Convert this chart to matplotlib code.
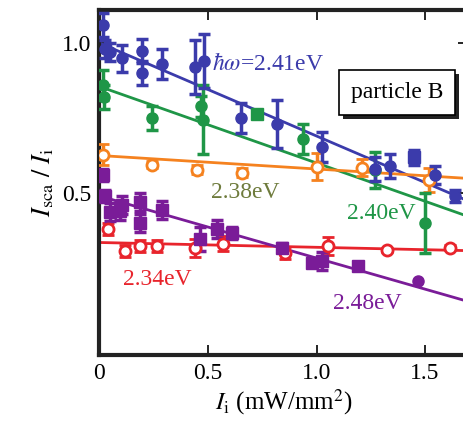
# -*- coding: utf-8 -*-

import numpy as np
from matplotlib import pyplot as plt
from matplotlib import patheffects

plt.rcParams['font.family'] = ['Liberation Serif', 'DejaVu Serif']
plt.rcParams['mathtext.fontset'] = 'stix'

# 2.41 eV (blue, filled circles)
x_241 = [0.016, 0.025, 0.05, 0.104, 0.196, 0.196, 0.288, 0.44, 0.48, 0.65, 0.82, 1.025, 1.27, 1.34, 1.545, 1.64]
y_241 = [1.06, 0.98, 0.97, 0.95, 0.975, 0.90, 0.93, 0.92, 0.94, 0.75, 0.73, 0.655, 0.58, 0.59, 0.56, 0.49]
e_241 = [0.04, 0.03, 0.03, 0.045, 0.04, 0.04, 0.05, 0.09, 0.09, 0.05, 0.08, 0.05, 0.04, 0.04, 0.03, 0.02]
xs_241, ys_241, es_241 = [1.45], [0.62], [0.025]

# 2.40 eV (green, filled circles)
x_240 = [0.015, 0.02, 0.24, 0.47, 0.475, 0.94, 1.27, 1.50]
y_240 = [0.86, 0.82, 0.75, 0.79, 0.745, 0.68, 0.578, 0.40]
e_240 = [0.05, 0.04, 0.04, 0.035, 0.115, 0.05, 0.06, 0.10]
xs_240, ys_240, es_240 = [0.725], [0.764], [0.01]

# 2.38 eV (orange, open circles)
x_238 = [0.016, 0.24, 0.45, 0.657, 1.0, 1.21, 1.52]
y_238 = [0.628, 0.595, 0.578, 0.567, 0.588, 0.585, 0.544]
e_238 = [0.035, 0.012, 0.015, 0.015, 0.045, 0.03, 0.04]

# 2.34 eV (red, open circles)
x_234 = [0.04, 0.118, 0.187, 0.265, 0.44, 0.57, 0.855, 1.053, 1.325, 1.615]
y_234 = [0.38, 0.307, 0.324, 0.324, 0.318, 0.33, 0.30, 0.324, 0.31, 0.318]
e_234 = [0.02, 0.02, 0.02, 0.02, 0.03, 0.025, 0.02, 0.03, 0.008, 0.008]

# 2.48 eV (purple, filled squares)
x_248 = [0.016, 0.025, 0.05, 0.104, 0.095, 0.187, 0.187, 0.288, 0.463, 0.54, 0.61, 0.84, 0.98, 1.025, 1.19]
y_248 = [0.56, 0.49, 0.435, 0.46, 0.44, 0.47, 0.40, 0.443, 0.348, 0.38, 0.365, 0.318, 0.267, 0.274, 0.257]
e_248 = [0.02, 0.02, 0.03, 0.03, 0.03, 0.03, 0.03, 0.03, 0.04, 0.03, 0.02, 0.015, 0.015, 0.03, 0.01]
xc_248, yc_248 = [1.468], [0.206]

# linear fits: (intercept, slope)
fits = {'2.41': (1.0, -0.31), '2.40': (0.855, -0.255), '2.38': (0.625, -0.045),
        '2.34': (0.335, -0.016), '2.48': (0.49, -0.207)}

blue = '#3b3bab'
green = '#1f9647'
orange = '#f5821f'
red = '#e8242c'
purple = '#7a1c98'
olive = '#6e7b3c'

fig = plt.figure(figsize=(4.63, 4.28), dpi=100)
ax = fig.add_axes([0.2149, 0.1706, 0.7968, 0.806])
ax.set_xlim(0, 1.7)
ax.set_ylim(-0.04, 1.11)

xx = np.array([0, 1.7])
for key, col in [('2.41', blue), ('2.40', green), ('2.38', orange), ('2.34', red), ('2.48', purple)]:
    b, m = fits[key]
    ax.plot(xx, b + m * xx, color=col, lw=2, zorder=2)

eb = dict(ls='none', elinewidth=2.5, capsize=4.5, capthick=2.5, ms=8, zorder=3)
ax.errorbar(x_234, y_234, yerr=e_234, fmt='o', color=red, mfc='white', mew=2, **eb)
ax.errorbar(x_238, y_238, yerr=e_238, fmt='o', color=orange, mfc='white', mew=2, **eb)
ax.errorbar(x_248, y_248, yerr=e_248, fmt='s', color=purple, **eb)
ax.errorbar(xc_248, yc_248, fmt='o', color=purple, **eb)
ax.errorbar(x_240, y_240, yerr=e_240, fmt='o', color=green, **eb)
ax.errorbar(xs_240, ys_240, yerr=es_240, fmt='s', color=green, **eb)
ax.errorbar(x_241, y_241, yerr=e_241, fmt='o', color=blue, **eb)
ax.errorbar(xs_241, ys_241, yerr=es_241, fmt='s', color=blue, **eb)

ax.text(0.52, 0.93, r'$\hbar\omega$=2.41eV', color=blue, fontsize=17, va='center', ha='left')
ax.text(0.67, 0.50, '2.38eV', color=olive, fontsize=17, va='center', ha='center')
ax.text(1.30, 0.43, '2.40eV', color=green, fontsize=17, va='center', ha='center')
ax.text(0.265, 0.21, '2.34eV', color=red, fontsize=17, va='center', ha='center')
ax.text(1.235, 0.13, '2.48eV', color=purple, fontsize=17, va='center', ha='center')

# box with drop shadow
t = ax.text(1.37, 0.835, 'particle B', fontsize=17, va='center', ha='center', zorder=6,
            bbox=dict(boxstyle='square,pad=0.5', fc='white', ec='black', lw=1.2))
t.get_bbox_patch().set_path_effects([
    patheffects.SimplePatchShadow(offset=(3, -3), shadow_rgbFace='#222222', alpha=1.0),
    patheffects.Normal()])

ax.set_xticks([0, 0.5, 1.0, 1.5])
ax.set_xticklabels(['0', '0.5', '1.0', '1.5'])
ax.set_yticks([0.5, 1.0])
ax.set_yticklabels(['0.5', '1.0'])
ax.tick_params(direction='in', length=7, width=1.2, labelsize=17, top=True, right=True, pad=6)
for s in ax.spines.values():
    s.set_linewidth(3)
    s.set_color('#222222')

ax.set_xlabel(r'$I_{\rm i}$ (mW/mm$^2$)', fontsize=18, labelpad=2)
ax.set_ylabel(r'$I_{\rm sca}\ /\ I_{\rm i}$', fontsize=19, labelpad=4)

fig.savefig('out.png', dpi=100)
